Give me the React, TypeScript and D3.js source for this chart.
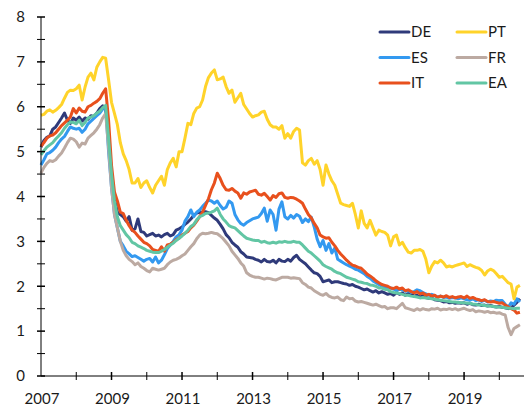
import * as d3 from 'd3';
import React, { useEffect, useRef } from 'react';

// monthly yields, Jan 2007 onwards
const START_YEAR = 2007;

const DE = [5.1, 5.25, 5.32, 5.35, 5.5, 5.55, 5.65, 5.75, 5.86, 5.7, 5.63, 5.75,
	5.7, 5.77, 5.68, 5.75, 5.72, 5.8, 5.78, 5.86, 5.96, 6.02, 5.95, 5.3,
	4.5, 3.95, 3.65, 3.6, 3.55, 3.45, 3.55, 3.25, 3.28, 3.5, 3.22, 3.2,
	3.12, 3.15, 3.18, 3.12, 3.14, 3.1, 3.15, 3.18, 3.12, 3.15, 3.25, 3.28,
	3.32, 3.38, 3.43, 3.5, 3.58, 3.63, 3.65, 3.65, 3.66, 3.64, 3.58, 3.52,
	3.47, 3.38, 3.28, 3.15, 3.08, 2.98, 2.92, 2.87, 2.77, 2.72, 2.65, 2.64,
	2.63, 2.6, 2.58, 2.54, 2.6, 2.55, 2.54, 2.58, 2.52, 2.6, 2.56, 2.55,
	2.6, 2.56, 2.64, 2.69, 2.6, 2.55, 2.5, 2.43, 2.36, 2.3, 2.28, 2.22,
	2.1, 2.12, 2.14, 2.08, 2.1, 2.1, 2.08, 2.06, 2.05, 2.02, 2.04, 2.0,
	1.98, 1.95, 1.92, 1.94, 1.9, 1.87, 1.9, 1.85, 1.88, 1.85, 1.82, 1.84,
	1.8, 1.86, 1.82, 1.85, 1.8, 1.84, 1.82, 1.78, 1.8, 1.76, 1.79, 1.75,
	1.73, 1.74, 1.7, 1.69, 1.68, 1.65, 1.66, 1.63, 1.64, 1.62, 1.63, 1.62,
	1.63, 1.6, 1.62, 1.59, 1.58, 1.6, 1.57, 1.58, 1.56, 1.57, 1.55, 1.54,
	1.55, 1.53, 1.52, 1.5, 1.52, 1.58, 1.64, 1.72];

const ES = [4.7, 4.82, 4.95, 4.98, 5.03, 5.1, 5.2, 5.28, 5.34, 5.45, 5.55, 5.52,
	5.5, 5.52, 5.43, 5.5, 5.62, 5.68, 5.74, 5.8, 5.86, 5.95, 5.98, 5.0,
	4.2, 3.6, 3.3, 3.0, 2.9, 2.78, 2.72, 2.66, 2.68, 2.64, 2.6, 2.56,
	2.6, 2.62, 2.54, 2.65, 2.52, 2.58, 2.7, 2.84, 2.92, 3.0, 3.1, 3.15,
	3.25, 3.45, 3.55, 3.7, 3.55, 3.65, 3.7, 3.78, 3.85, 3.92, 3.9, 3.85,
	3.9, 3.8, 3.72, 3.76, 3.9, 3.85, 3.6, 3.48, 3.4, 3.36, 3.42, 3.46,
	3.5, 3.52, 3.54, 3.62, 3.74, 3.45, 3.7, 3.6, 3.25, 3.72, 3.88, 3.55,
	3.5, 3.58, 3.52, 3.6, 3.56, 3.42, 3.5, 3.44, 3.54, 3.32, 3.05, 2.88,
	3.02, 2.8, 2.95, 2.74, 2.85, 2.6, 2.56, 2.52, 2.48, 2.45, 2.42, 2.38,
	2.36, 2.32, 2.28, 2.22, 2.18, 2.12, 2.08, 2.04, 2.0, 1.98, 1.97, 1.96,
	1.94, 1.9, 1.93, 1.92, 1.89, 1.9, 1.86, 1.88, 1.92, 1.9, 1.86, 1.83,
	1.8, 1.82, 1.79, 1.76, 1.78, 1.75, 1.76, 1.73, 1.75, 1.74, 1.72, 1.74,
	1.72, 1.7, 1.69, 1.72, 1.68, 1.7, 1.66, 1.69, 1.65, 1.67, 1.66, 1.69,
	1.68, 1.68, 1.6, 1.53, 1.63, 1.6, 1.72, 1.65];

const IT = [5.12, 5.2, 5.3, 5.35, 5.37, 5.42, 5.5, 5.58, 5.64, 5.7, 5.77, 5.96,
	5.86, 5.97, 5.9, 5.88, 6.0, 6.03, 6.08, 6.12, 6.18, 6.3, 6.4, 5.7,
	4.7, 4.1, 3.9, 3.65, 3.62, 3.47, 3.35, 3.25, 3.2, 3.12, 3.05, 2.98,
	2.95, 2.9, 2.82, 2.8, 2.78, 2.88, 2.78, 2.92, 2.94, 2.98, 3.04, 3.07,
	3.14, 3.18, 3.22, 3.3, 3.36, 3.45, 3.55, 3.65, 3.8, 3.95, 4.15, 4.3,
	4.52, 4.4, 4.25, 4.15, 4.14, 4.18, 4.12, 4.08, 3.96, 4.08, 4.05, 4.1,
	4.12, 4.14, 4.05, 4.03, 4.07, 4.0, 3.92, 4.02, 3.98, 4.06, 4.08, 3.98,
	3.96, 3.98, 3.97, 3.94, 3.9, 3.85, 3.72, 3.6, 3.52, 3.4, 3.3, 3.14,
	3.1, 3.07, 3.08, 2.98, 2.9, 2.8, 2.72, 2.65, 2.58, 2.52, 2.47, 2.45,
	2.42, 2.4, 2.34, 2.27, 2.23, 2.18, 2.12, 2.08, 2.04, 2.02, 2.0, 1.96,
	1.95, 1.98, 1.94, 1.96, 1.9, 1.92, 1.88, 1.85, 1.88, 1.83, 1.85, 1.8,
	1.82, 1.78, 1.8, 1.75, 1.78, 1.76, 1.79, 1.75, 1.77, 1.74, 1.76, 1.77,
	1.74, 1.78, 1.73, 1.75, 1.72, 1.7, 1.68, 1.7, 1.66, 1.65, 1.66, 1.64,
	1.62, 1.63, 1.58, 1.54, 1.5, 1.47, 1.4, 1.42];

const PT = [5.81, 5.83, 5.9, 5.93, 5.88, 5.92, 5.98, 6.05, 6.19, 6.32, 6.37, 6.36,
	6.4, 6.48, 6.15, 6.44, 6.66, 6.75, 6.6, 6.88, 7.0, 7.1, 7.08, 6.6,
	6.1, 5.85, 5.6, 5.2, 4.95, 4.8, 4.6, 4.3, 4.3, 4.4, 4.2, 4.3,
	4.35, 4.2, 4.08, 4.25, 4.35, 4.45, 4.25, 4.6, 4.75, 4.85, 4.66, 5.0,
	5.0, 5.3, 5.63, 5.6, 5.85, 5.97, 6.0, 6.15, 6.45, 6.65, 6.75, 6.82,
	6.6, 6.62, 6.66, 6.45, 6.3, 6.37, 6.1, 6.2, 6.3, 6.05, 5.95, 5.85,
	5.77, 5.8, 5.82, 5.88, 5.9, 5.72, 5.6, 5.55, 5.55, 5.5, 5.58, 5.3,
	5.4, 5.3, 5.45, 5.52, 5.48, 4.75, 4.7, 4.8, 4.85, 4.72, 4.8, 4.6,
	4.25, 4.7, 4.5, 4.35, 4.25, 4.05, 3.85, 3.82, 3.8, 3.78, 3.85, 3.6,
	3.3, 3.68, 3.4, 3.3, 3.47, 3.3, 3.14, 3.25, 3.22, 3.2, 3.14, 2.9,
	3.1, 3.14, 2.92, 2.98, 2.86, 2.76, 2.74, 2.8, 2.8, 2.82, 2.78, 2.6,
	2.3, 2.45, 2.55, 2.52, 2.58, 2.52, 2.43, 2.45, 2.43, 2.46, 2.48, 2.5,
	2.52, 2.44, 2.48, 2.45, 2.42, 2.4, 2.35, 2.25, 2.34, 2.38, 2.35, 2.28,
	2.2, 2.22, 2.15, 2.08, 2.05, 1.72, 1.98, 2.02];

const FR = [4.52, 4.65, 4.74, 4.8, 4.78, 4.82, 4.9, 4.97, 5.08, 5.2, 5.3, 5.28,
	5.22, 5.1, 5.19, 5.17, 5.3, 5.36, 5.42, 5.5, 5.6, 5.75, 5.85, 5.1,
	4.2, 3.6, 3.3, 3.0, 2.8, 2.68, 2.6, 2.55, 2.48, 2.52, 2.44, 2.4,
	2.35, 2.32, 2.4, 2.38, 2.36, 2.38, 2.4, 2.48, 2.54, 2.58, 2.6, 2.63,
	2.68, 2.72, 2.8, 2.88, 2.95, 3.06, 3.14, 3.18, 3.17, 3.18, 3.2, 3.18,
	3.17, 3.12, 3.06, 2.98, 2.9, 2.78, 2.7, 2.62, 2.52, 2.45, 2.3, 2.25,
	2.22, 2.2, 2.2, 2.18, 2.16, 2.18, 2.17, 2.15, 2.14, 2.17, 2.2, 2.2,
	2.2, 2.18, 2.19, 2.18, 2.17, 2.08, 2.04, 1.98, 1.96, 1.9, 1.86, 1.82,
	1.8, 1.84, 1.78, 1.75, 1.74, 1.76, 1.7, 1.68, 1.76, 1.72, 1.73, 1.67,
	1.65, 1.66, 1.64, 1.62, 1.6, 1.58, 1.6, 1.57, 1.54, 1.55, 1.5, 1.52,
	1.52, 1.5, 1.56, 1.62, 1.52, 1.5, 1.48, 1.46, 1.5, 1.47, 1.5, 1.48,
	1.47, 1.5, 1.49, 1.51, 1.47, 1.49, 1.48, 1.5, 1.48, 1.5, 1.47, 1.49,
	1.51, 1.48, 1.46, 1.48, 1.43, 1.45, 1.44, 1.42, 1.44, 1.41, 1.42, 1.4,
	1.41, 1.38, 1.36, 1.08, 0.92, 1.06, 1.1, 1.14];

const EA = [4.93, 5.02, 5.1, 5.15, 5.2, 5.28, 5.35, 5.42, 5.52, 5.6, 5.66, 5.65,
	5.62, 5.7, 5.58, 5.65, 5.75, 5.77, 5.8, 5.86, 5.9, 5.98, 6.03, 5.3,
	4.5, 3.9, 3.55, 3.35, 3.25, 3.15, 3.08, 2.98, 2.95, 2.9, 2.87, 2.84,
	2.8, 2.78, 2.76, 2.75, 2.75, 2.78, 2.82, 2.87, 2.92, 2.96, 3.02, 3.07,
	3.12, 3.18, 3.25, 3.33, 3.38, 3.48, 3.55, 3.58, 3.62, 3.63, 3.65, 3.68,
	3.74, 3.6, 3.5, 3.43, 3.35, 3.32, 3.3, 3.24, 3.18, 3.12, 3.07, 3.05,
	3.03, 3.02, 3.02, 2.98, 3.0, 2.97, 2.96, 2.98, 2.96, 2.99, 2.98, 3.0,
	2.98, 2.98, 3.0, 2.98, 2.98, 2.92, 2.85, 2.78, 2.74, 2.68, 2.62, 2.56,
	2.48, 2.44, 2.41, 2.38, 2.33, 2.3, 2.28, 2.24, 2.2, 2.18, 2.16, 2.14,
	2.1, 2.09, 2.07, 2.06, 2.03, 2.02, 2.0, 1.96, 1.96, 1.93, 1.92, 1.88,
	1.86, 1.85, 1.84, 1.82, 1.8, 1.8, 1.78, 1.77, 1.76, 1.74, 1.75, 1.74,
	1.73, 1.72, 1.71, 1.7, 1.69, 1.68, 1.67, 1.66, 1.65, 1.65, 1.64, 1.63,
	1.63, 1.62, 1.62, 1.6, 1.6, 1.58, 1.58, 1.57, 1.56, 1.56, 1.55, 1.54,
	1.54, 1.53, 1.52, 1.51, 1.51, 1.5, 1.51, 1.51];

const series = [
	{ name: "DE", values: DE, color: "#2f3a7a" },
	{ name: "ES", values: ES, color: "#3399f0" },
	{ name: "IT", values: IT, color: "#e8501d" },
	{ name: "PT", values: PT, color: "#ffd32a" },
	{ name: "FR", values: FR, color: "#bcaaa2" },
	{ name: "EA", values: EA, color: "#62c6a4" },
];

const yTicks = [0, 1, 2, 3, 4, 5, 6, 7, 8];
const xLabels = [2007, 2009, 2011, 2013, 2015, 2017, 2019];

const App = () => {
	const svgRef = useRef(null);

	useEffect(() => {
		const width = 524;
		const height = 408;
		const font = "Lato, 'Open Sans', sans-serif";

		const svg = d3.select(svgRef.current);
		svg.selectAll("*").remove();

		const x = d3.scaleLinear().domain([2007, 2020.7]).range([41, 524]);
		const y = d3.scaleLinear().domain([0, 8]).range([376, 17]);

		// lines
		const line = d3.line<number>()
			.x((d, i) => x(START_YEAR + i / 12))
			.y(d => y(d));

		svg.append("g")
			.selectAll("path")
			.data(series)
			.enter()
			.append("path")
			.attr("d", d => line(d.values))
			.attr("fill", "none")
			.attr("stroke", d => d.color)
			.attr("stroke-width", 3)
			.attr("stroke-linejoin", "round");

		// y axis
		const yAxis = svg.append("g");
		yAxis.append("line")
			.attr("x1", x(2007)).attr("x2", x(2007))
			.attr("y1", y(8)).attr("y2", y(0))
			.attr("stroke", "#000");
		yAxis.selectAll(".ytick")
			.data(d3.range(0, 8.01, 0.5))
			.enter()
			.append("line")
			.attr("x1", x(2007) - 4).attr("x2", x(2007) + 4)
			.attr("y1", d => y(d)).attr("y2", d => y(d))
			.attr("stroke", "#000")
			.attr("stroke-width", d => (d % 1 === 0 ? 1.5 : 1));
		yAxis.selectAll(".ylab")
			.data(yTicks)
			.enter()
			.append("text")
			.attr("x", 25)
			.attr("y", d => y(d))
			.attr("dy", "0.35em")
			.attr("text-anchor", "end")
			.style("font-family", font)
			.style("font-size", "15px")
			.attr("fill", "#1a1a1a")
			.text(d => d);

		// x axis
		const xAxis = svg.append("g");
		xAxis.append("line")
			.attr("x1", x(2007)).attr("x2", width)
			.attr("y1", y(0)).attr("y2", y(0))
			.attr("stroke", "#000");
		xAxis.selectAll(".xtick")
			.data(d3.range(2008, 2021))
			.enter()
			.append("line")
			.attr("x1", d => x(d)).attr("x2", d => x(d))
			.attr("y1", y(0) - 4).attr("y2", y(0) + 4)
			.attr("stroke", "#000")
			.attr("stroke-width", d => (d % 2 === 1 ? 1.5 : 1));
		xAxis.selectAll(".xlab")
			.data(xLabels)
			.enter()
			.append("text")
			.attr("x", d => x(d) + 1)
			.attr("y", 404)
			.attr("text-anchor", "middle")
			.style("font-family", font)
			.style("font-size", "15px")
			.attr("fill", "#1a1a1a")
			.text(d => d);

		// legend, two columns
		const legend = svg.append("g");
		series.forEach((s, i) => {
			const col = Math.floor(i / 3);
			const row = i % 3;
			const lx = 380 + col * 77;
			const ly = 32 + row * 25.5;
			legend.append("line")
				.attr("x1", lx).attr("x2", lx + 29)
				.attr("y1", ly).attr("y2", ly)
				.attr("stroke", s.color)
				.attr("stroke-width", 3)
				.attr("stroke-linecap", "round");
			legend.append("text")
				.attr("x", lx + 31)
				.attr("y", ly)
				.attr("dy", "0.36em")
				.style("font-family", font)
				.style("font-size", "15px")
				.attr("fill", "#1a1a1a")
				.text(s.name);
		});

		return () => {
			svg.selectAll("*").remove();
		};
	}, []);

	return (
		<svg
			ref={svgRef}
			width={524}
			height={408}
			style={{ position: "absolute", left: 0, top: 0, background: "#fff" }}
		/>
	);
};

export default App;
